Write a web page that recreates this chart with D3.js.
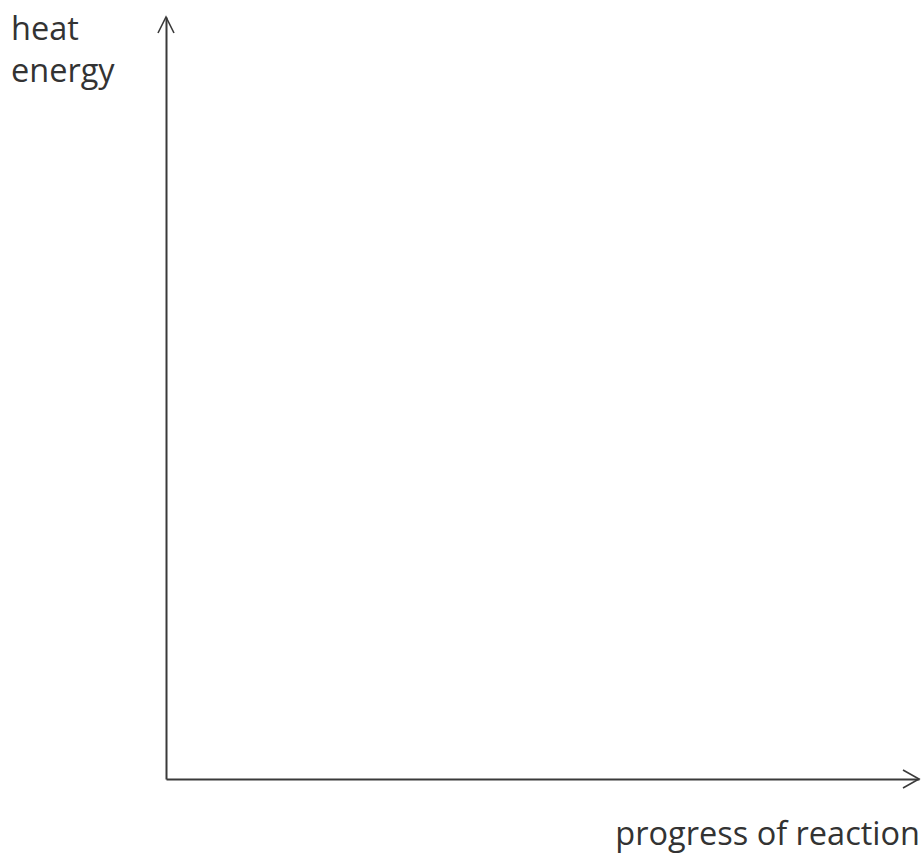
<!DOCTYPE html>
<html><head><meta charset="utf-8">
<script src="https://cdn.jsdelivr.net/npm/d3@7"></script>
<style>body{margin:0;background:#fff}svg{display:block}</style>
</head><body>
<svg id="c" width="924" height="854"></svg>
<script>
const yLabelLines = ["heat", "energy"];
const xLabel = "progress of reaction";
const xDomain = [0, 1];
const yDomain = [0, 1];
const xTicks = [];
const yTicks = [];

const svg = d3.select("#c");
const ox = 166, oy = 779, xEnd = 919, yEnd = 17;
const x = d3.scaleLinear().domain(xDomain).range([ox, xEnd]);
const y = d3.scaleLinear().domain(yDomain).range([oy, yEnd]);
const col = "#3a3a3a";

const xa = svg.append("g").attr("transform", `translate(0,${oy})`)
  .call(d3.axisBottom(x).tickValues(xTicks).tickSizeOuter(0));
const ya = svg.append("g").attr("transform", `translate(${ox},0)`)
  .call(d3.axisLeft(y).tickValues(yTicks).tickSizeOuter(0));
[xa, ya].forEach(g => g.select(".domain").attr("stroke", col).attr("stroke-width", 2));

// arrowheads
const xt = x(xDomain[1]), yt = y(yDomain[1]);
svg.append("path")
  .attr("d", `M${xt-16},${oy-9}L${xt},${oy}L${xt-16},${oy+9}`)
  .attr("fill", "none").attr("stroke", col).attr("stroke-width", 1.6);
svg.append("path")
  .attr("d", `M${ox-8},${yt+16}L${ox},${yt}L${ox+8},${yt+16}`)
  .attr("fill", "none").attr("stroke", col).attr("stroke-width", 1.6);

const font = "'Open Sans', sans-serif";
svg.append("g").selectAll("text").data(yLabelLines).join("text")
  .attr("x", 11).attr("y", (d, i) => 40 + i * 42)
  .attr("font-family", font).attr("font-size", 32.5).attr("fill", "#333")
  .text(d => d);
svg.append("text").attr("x", 920).attr("y", 845).attr("text-anchor", "end")
  .attr("font-family", font).attr("font-size", 32.5).attr("fill", "#333")
  .text(xLabel);
</script>
</body></html>
